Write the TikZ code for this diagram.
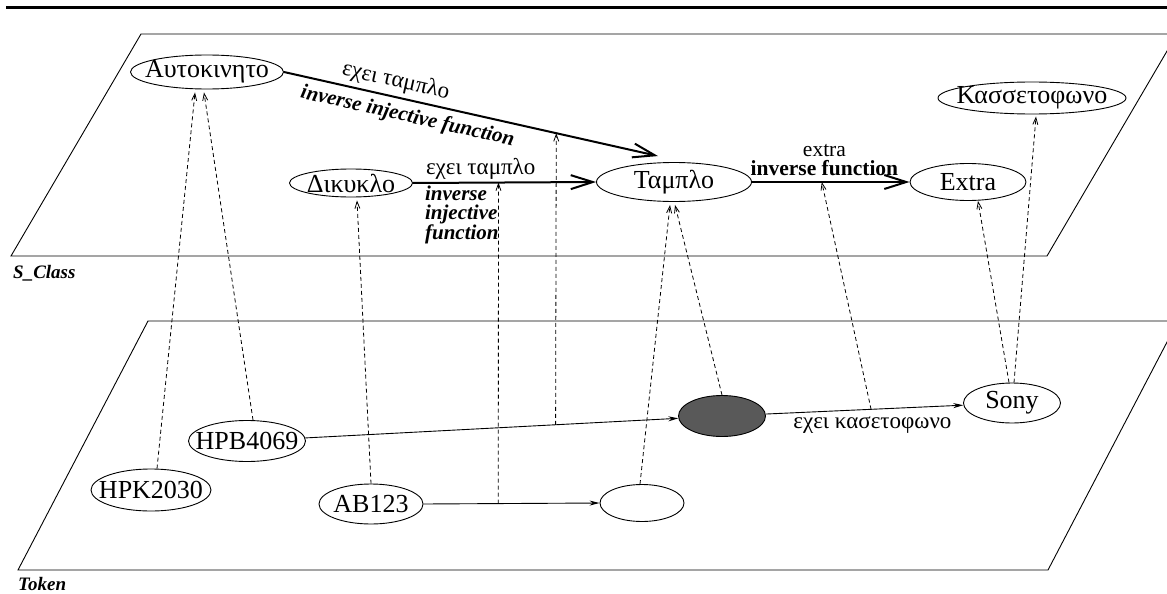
\documentclass[tikz,border=0pt]{standalone}
\usepackage{fontspec}
\setmainfont{Liberation Serif}
\usetikzlibrary{arrows.meta,calc,shapes.geometric}
\begin{document}
\begin{tikzpicture}[x=1pt,y=-1pt,
  oval/.style={ellipse,draw,line width=0.9pt,inner sep=0pt,fill=white},
  nodetext/.style={font=\fontsize{26}{30}\selectfont},
  txt/.style={label={[nodetext]center:#1}},
  plane/.style={line width=0.9pt},
  classedge/.style={line width=2pt,-{Straight Barb[length=22pt,width=14pt]}},
  tokedge/.style={line width=0.9pt,-{Stealth[length=10pt,width=5pt]}},
  proj/.style={line width=0.8pt,dash pattern=on 4pt off 3pt,-{Straight Barb[length=7pt,width=5pt]}},
  lbl/.style={font=\fontsize{22}{22}\selectfont,inner sep=2pt},
  grklbl/.style={font=\fontsize{23}{24}\selectfont,inner sep=2pt},
  lblbi/.style={font=\fontsize{21}{22}\selectfont\bfseries\itshape,inner sep=2pt},
  layer/.style={font=\fontsize{19}{22}\selectfont\bfseries\itshape,anchor=west,inner sep=0pt}
]
\useasboundingbox (0,0) rectangle (1167,594);
\clip (0,0) rectangle (1167,594);

% heading rule
\draw[line width=3pt] (6,7.7) -- (1175,7.7);

% the two layers
\draw[plane] (141,34) -- (1177,34) -- (1047,256) -- (11,256) -- cycle;
\draw[plane] (148,321) -- (1178,321) -- (1048,570) -- (18,570) -- cycle;
\node[layer] (sclass) at (13,273) {S\_Class};
\node[layer] (token) at (18,584) {Token};

% class layer
\node[oval,minimum width=153pt,minimum height=34pt,txt=Αυτοκινητο] (auto) at (207,72) {};
\node[oval,minimum width=188pt,minimum height=32pt,txt=Κασσετοφωνο] (kas) at (1032,98) {};
\node[oval,minimum width=123pt,minimum height=28pt,txt=Δικυκλο] (dik) at (351,183) {};
\node[oval,minimum width=155pt,minimum height=39pt,txt=Ταμπλο] (tp) at (674,182) {};
\node[oval,minimum width=116pt,minimum height=37pt,txt=Extra] (extra) at (968,182) {};

% token layer
\node[oval,minimum width=117pt,minimum height=41pt,txt=HPB4069] (hpb) at (247,441) {};
\node[oval,minimum width=120pt,minimum height=42pt,txt=HPK2030] (hpk) at (151,490) {};
\node[oval,minimum width=104pt,minimum height=40pt,txt=AB123] (ab) at (371,504) {};
\node[oval,minimum width=84pt,minimum height=37pt] (blank) at (642,503) {};
\node[oval,minimum width=87pt,minimum height=41pt,fill=black!65] (dark) at (722,416) {};
\node[oval,minimum width=97pt,minimum height=40pt,txt=Sony] (sony) at (1012,403) {};

% class relations
\draw[classedge] (auto.east) --
  node[grklbl,sloped,above,pos=0.29,inner sep=4pt] (la1) {εχει ταμπλο}
  node[lblbi,sloped,below,pos=0.34,inner sep=6pt] (la2) {inverse injective function}
  coordinate[pos=0.728] (c1) ($(tp.north)+(-16,-6)$);
\draw[classedge] (dik.east) --
  node[grklbl,above,pos=0.37] (lb1) {εχει ταμπλο}
  node[lblbi,anchor=north west,align=left,pos=0.05,font=\fontsize{21}{18.5}\selectfont\bfseries\itshape] (lb2) {inverse\\injective\\function}
  coordinate[pos=0.467] (c2) (tp.west);
\draw[classedge] (tp.east) --
  node[lbl,above,pos=0.46,align=center,inner sep=5pt,font=\fontsize{21.5}{19}\selectfont] (lc) {extra\\\textbf{inverse function}}
  coordinate[pos=0.443] (c3) (extra.west);

% token relations
\draw[tokedge] (hpb) -- coordinate[pos=0.671] (t1) (dark);
\draw[tokedge] (ab.east) -- coordinate[pos=0.425] (t2) (blank.west);
\draw[tokedge] (dark) --
  node[grklbl,below,pos=0.54,inner sep=7pt] (ld) {εχει κασετοφωνο}
  coordinate[pos=0.533] (t3) (sony);

% instance-of links
\draw[proj] ($(hpk.north)+(6,0)$) -- ($(auto.south)+(-12,3)$);
\draw[proj] ($(hpb.north)+(6,0)$) -- ($(auto.south)+(-3,3)$);
\draw[proj] (ab.north) -- ($(dik.south)+(6,3)$);
\draw[proj] (t2) -- (c2);
\draw[proj] (t1) -- (c1);
\draw[proj] ($(blank.north)+(-2,0)$) -- ($(tp.south)+(-4,3)$);
\draw[proj] (dark.north) -- ($(tp.south)+(1,3)$);
\draw[proj] (t3) -- (c3);
\draw[proj] ($(sony.north)+(-3,0)$) -- ($(extra.south)+(10,0)$);
\draw[proj] ($(sony.north)+(2,0)$) -- ($(kas.south)+(4,2)$);
\end{tikzpicture}
\end{document}
